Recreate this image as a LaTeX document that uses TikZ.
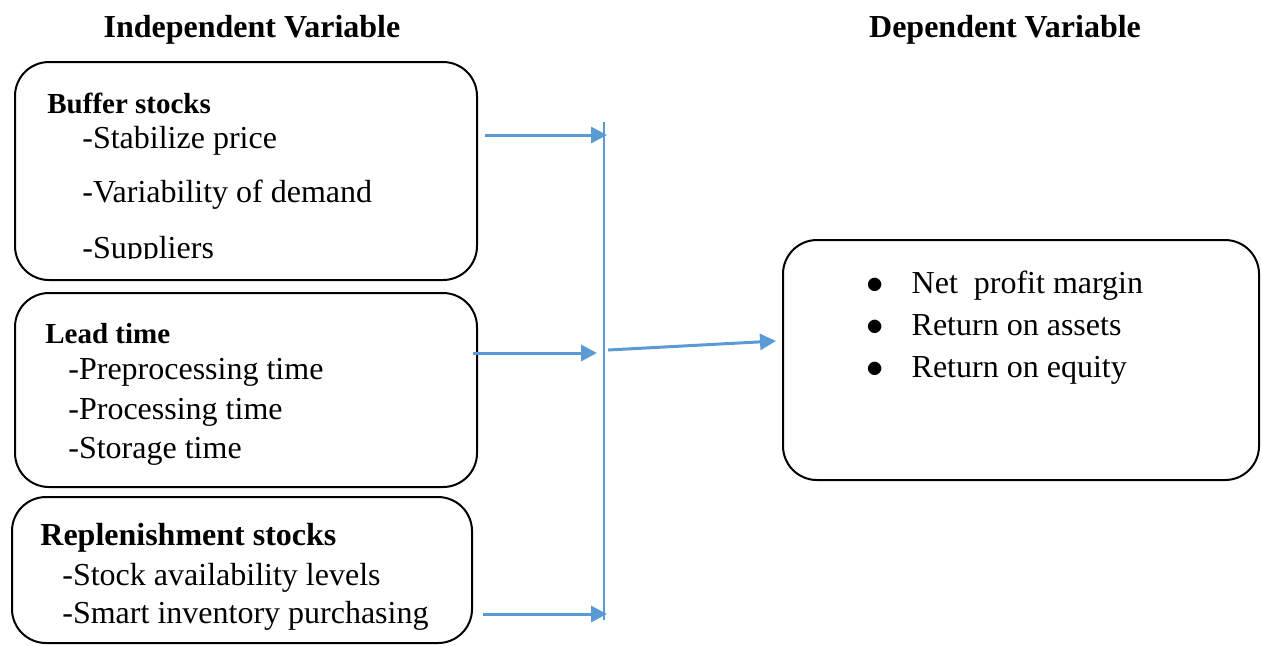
\documentclass[tikz,border=0pt]{standalone}
\usepackage{fontspec}
\setmainfont{Liberation Serif}
\usepackage{xcolor}
\usetikzlibrary{arrows.meta,positioning}
\definecolor{linkblue}{HTML}{5B9BD5}

\begin{document}
\begin{tikzpicture}[
  x=0.5pt,y=-0.5pt,
  varbox/.style={draw, line width=1pt, rounded corners=17pt, inner sep=0pt},
  head/.style={font=\fontsize{16}{19}\selectfont\bfseries},
  subhead/.style={anchor=west, inner sep=0pt, font=\fontsize{14.5}{17}\selectfont\bfseries},
  item/.style={anchor=west, inner sep=0pt, text height=11pt, text depth=3.5pt,
    font=\fontsize{16}{19}\selectfont},
  link/.style={draw=linkblue, line width=1.5pt, -{Triangle[length=8pt,width=8pt]}}
]
\useasboundingbox (0,0) rectangle (1261,645);

% headings
\node[head] (indep) at (252,30) {Independent Variable};
\node[head] (dep) at (1005,30) {Dependent Variable};

% boxes
\node[varbox, minimum width=231pt, minimum height=109pt] (buffer) at (246,171) {};
\node[varbox, minimum width=231pt, minimum height=97pt] (lead) at (246,390) {};
\node[varbox, minimum width=230pt, minimum height=73pt] (replen) at (242,570) {};
\node[varbox, minimum width=238pt, minimum height=120pt] (perf) at (1021,360) {};

% buffer stocks
\node[subhead] (bufhead) at (47,103) {Buffer stocks};
\node[item] (bufa) at (82,141) {-Stabilize price};
\node[item] (bufb) at (82,195) {-Variability of demand};
\begin{scope}
  \clip (0,0) rectangle (1261,258);
  \node[item] (bufc) at (82,251) {-Suppliers};
\end{scope}

% lead time
\node[subhead] (leadhead) at (45,334) {Lead time};
\node[item] (leada) at (68,372) {-Preprocessing time};
\node[item] (leadb) at (68,412) {-Processing time};
\node[item] (leadc) at (68,451) {-Storage time};

% replenishment stocks
\node[subhead, font=\fontsize{16}{19}\selectfont\bfseries] (rephead) at (40,538) {Replenishment stocks};
\node[item] (repa) at (62,578) {-Stock availability levels};
\node[item] (repb) at (62,616) {-Smart inventory purchasing};

% dependent measures
\node[item] (perfa) at (866,286) {$\bullet$\hspace{14pt}Net\ \ profit margin};
\node[item] (perfb) at (866,328) {$\bullet$\hspace{14pt}Return on assets};
\node[item] (perfc) at (866,370) {$\bullet$\hspace{14pt}Return on equity};

% collector line
\coordinate (bustop) at (604,122);
\coordinate (busbot) at (604,620);
\draw[linkblue, line width=0.7pt] (bustop) -- (busbot);

\coordinate (froma) at (485,135);
\coordinate (toa) at (607,135);
\coordinate (fromb) at (473,353);
\coordinate (tob) at (597,353);
\coordinate (fromc) at (483,614);
\coordinate (toc) at (607,614);
\coordinate (fromd) at (608,350);
\coordinate (tod) at (776,341);

\draw[link] (froma) -- (toa);
\draw[link] (fromb) -- (tob);
\draw[link] (fromc) -- (toc);
\draw[link] (fromd) -- (tod);
\end{tikzpicture}
\end{document}
